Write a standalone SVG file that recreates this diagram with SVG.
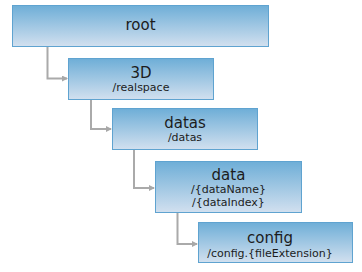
<svg xmlns="http://www.w3.org/2000/svg" width="362" height="272" viewBox="0 0 362 272">
<defs>
<linearGradient id="g" x1="0" y1="0" x2="0" y2="1">
<stop offset="0" stop-color="#6eaed7"/>
<stop offset="1" stop-color="#d2e0ef"/>
</linearGradient>
<marker id="arr" markerWidth="6" markerHeight="6" refX="5" refY="3" orient="auto" markerUnits="userSpaceOnUse">
<path d="M0,0 L6,3 L0,6 Z" fill="#a8a8a8"/>
</marker>
<style>
.box{fill:url(#g);stroke:#5fa3d0;stroke-width:1}
.t{font-family:"DejaVu Sans",Verdana,sans-serif;font-size:15px;fill:#1c1c1c;text-anchor:middle}
.s{font-family:"DejaVu Sans",Verdana,sans-serif;font-size:11px;fill:#1c1c1c;text-anchor:middle}
.c{fill:none;stroke:#aaaaaa;stroke-width:2;marker-end:url(#arr)}
</style>
</defs>
<g id="connectors">
<path class="c" d="M47.5,46 V78.5 H67"/>
<path class="c" d="M91,99 V129 H111"/>
<path class="c" d="M134,149 V188 H154"/>
<path class="c" d="M177.5,212 V244 H197"/>
</g>
<g id="root">
<rect class="box" x="12.5" y="5.5" width="256" height="41"/>
<text class="t" x="140.5" y="30">root</text>
</g>
<g id="n3d">
<rect class="box" x="68.5" y="58.5" width="145" height="41"/>
<text class="t" x="141" y="78">3D</text>
<text class="s" x="141" y="91">/realspace</text>
</g>
<g id="datas">
<rect class="box" x="112.5" y="108.5" width="145" height="41"/>
<text class="t" x="185" y="127.5">datas</text>
<text class="s" x="185" y="141">/datas</text>
</g>
<g id="data">
<rect class="box" x="155.5" y="161.5" width="146" height="51"/>
<text class="t" x="228.5" y="180">data</text>
<text class="s" x="228.5" y="193">/{dataName}</text>
<text class="s" x="228.5" y="206">/{dataIndex}</text>
</g>
<g id="config">
<rect class="box" x="198.5" y="222.5" width="154" height="40"/>
<text class="t" x="270" y="243">config</text>
<text class="s" x="270" y="256.5">/config.{fileExtension}</text>
</g>
</svg>
